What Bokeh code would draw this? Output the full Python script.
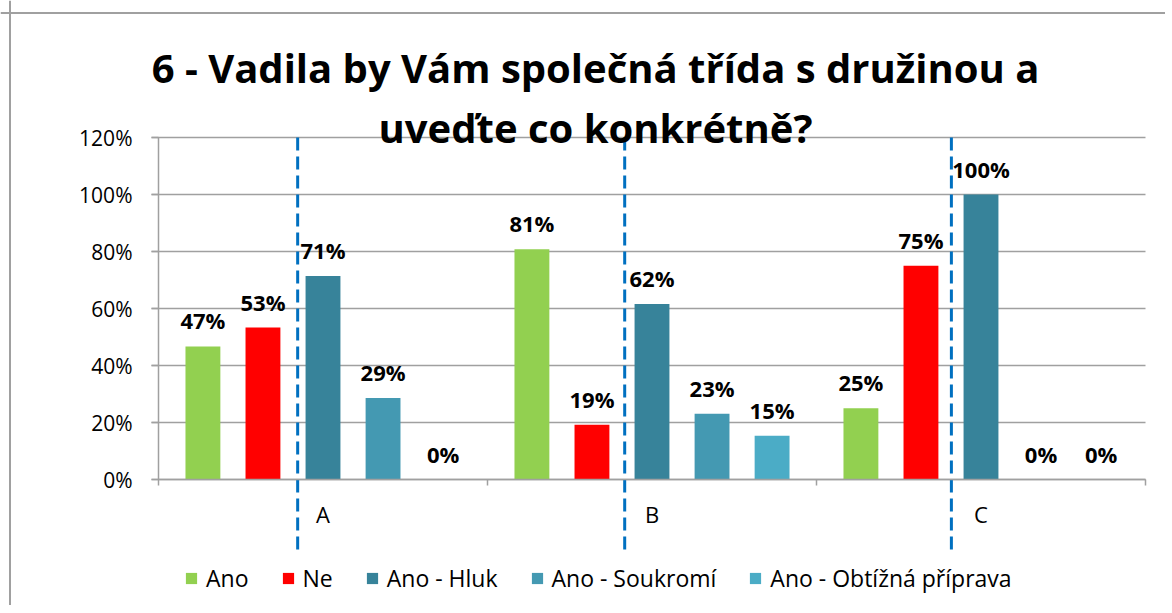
from bokeh.plotting import figure
from bokeh.models import (Range1d, FixedTicker, NumeralTickFormatter, Label, Legend, LegendItem, Span, Grid)
from bokeh.core.properties import value
from bokeh.embed import file_html
from bokeh.resources import INLINE

title_lines = ["6 - Vadila by Vám společná třída s družinou a", "uveďte co konkrétně?"]
categories = ["A", "B", "C"]
series_names = ["Ano", "Ne", "Ano - Hluk", "Ano - Soukromí", "Ano - Obtížná příprava"]
ano = [0.4667, 0.8077, 0.25]
ne = [0.5333, 0.1923, 0.75]
ano_hluk = [0.7143, 0.6154, 1.0]
ano_soukromi = [0.2857, 0.2308, 0.0]
ano_obtizna = [0.0, 0.1538, 0.0]
series_values = [ano, ne, ano_hluk, ano_soukromi, ano_obtizna]
colors = ["#92D050", "#FF0000", "#37839A", "#4499B2", "#4BACC6"]
y_ticks = [0, 0.2, 0.4, 0.6, 0.8, 1.0, 1.2]

FONT = "Open Sans"
GRAY = "#A0A0A0"
n = len(categories)

# page px -> data: x 0 at 159, 329 px/unit ; y 0 at 480, 285 px/unit
ORIG = 1  # observed canvas origin on page
W, H = 1165, 605
x0_px, xs_px = 159 - ORIG, 329.0
y0_px, ys_px = 480 - ORIG, 285.0
x_start = -x0_px / xs_px
x_end = (W - x0_px) / xs_px
y_end = y0_px / ys_px
y_start = -(H - y0_px) / ys_px

p = figure(width=W, height=H, output_backend="svg", toolbar_location=None,
           x_range=Range1d(x_start, x_end), y_range=Range1d(y_start, y_end),
           min_border_left=0, min_border_top=0, min_border_right=0, min_border_bottom=0)
p.outline_line_color = None
p.background_fill_color = "white"
p.border_fill_color = "white"

# outer chart border (left and top edges)
p.add_layout(Span(location=(10.5 - 159) / xs_px, dimension="height", line_color=GRAY, line_width=2))
p.add_layout(Span(location=(480 - 13.5) / ys_px, dimension="width", line_color=GRAY, line_width=2))

# y axis at x = 0
p.yaxis.fixed_location = 0
p.yaxis.ticker = FixedTicker(ticks=y_ticks)
p.yaxis.formatter = NumeralTickFormatter(format="0%")
p.yaxis.bounds = (0, 1.2)
p.yaxis.axis_line_color = GRAY
p.yaxis.axis_line_width = 1.5
p.yaxis.major_tick_line_color = GRAY
p.yaxis.major_tick_line_width = 1.5
p.yaxis.major_tick_out = 7
p.yaxis.major_tick_in = 0
p.yaxis.minor_tick_line_color = None
p.yaxis.major_label_standoff = 19
p.yaxis.major_label_text_font = FONT
p.yaxis.major_label_text_font_size = "21px"
p.yaxis.major_label_text_color = "black"

# x axis at y = 0
p.xaxis.fixed_location = 0
p.xaxis.bounds = (0, n)
p.xaxis.ticker = FixedTicker(ticks=[i + 0.5 for i in range(n)], minor_ticks=list(range(n + 1)))
p.xaxis.major_label_overrides = {i + 0.5: c for i, c in enumerate(categories)}
p.xaxis.axis_line_color = GRAY
p.xaxis.axis_line_width = 1.5
p.xaxis.major_tick_line_color = None
p.xaxis.minor_tick_line_color = GRAY
p.xaxis.minor_tick_line_width = 1.5
p.xaxis.minor_tick_out = 6
p.xaxis.minor_tick_in = 0
p.xaxis.major_label_standoff = 13
p.xaxis.major_label_text_font = FONT
p.xaxis.major_label_text_font_size = "22px"
p.xaxis.major_label_text_color = "black"

p.xgrid.grid_line_color = None
grid_left = -7 / xs_px
if "cross_bounds" in Grid.properties():
    p.ygrid.ticker = FixedTicker(ticks=y_ticks)
    p.ygrid.cross_bounds = (grid_left, n)
    p.ygrid.grid_line_color = GRAY
    p.ygrid.grid_line_width = 1.5
    p.ygrid.level = "underlay"
else:
    p.ygrid.grid_line_color = None
    p.segment(x0=[grid_left] * len(y_ticks), x1=[n] * len(y_ticks), y0=y_ticks, y1=y_ticks,
              line_color=GRAY, line_width=1.5, level="underlay")

# bars
pitch = 0.1825
width = 0.106
items = []
for k, (name, vals, col) in enumerate(zip(series_names, series_values, colors)):
    xs = [i + 0.5 + (k - 2) * pitch for i in range(n)]
    r = p.vbar(x=xs, top=vals, bottom=0, width=width, fill_color=col, line_color=None)
    items.append(LegendItem(label=name, renderers=[r]))
    p.text(x=xs, y=vals, text=[f"{round(v * 100)}%" for v in vals],
           text_align="center", text_baseline="middle", y_offset=-26,
           text_font=value(FONT), text_font_style="bold", text_font_size="22px",
           text_color="black")

# dashed separators
sep_x = [0.423, 1.417, 2.41]
p.segment(x0=sep_x, x1=sep_x, y0=[1.2] * 3, y1=[-70 / ys_px] * 3,
          line_color="#0070C0", line_width=3, line_dash="13 6")

# title
title_x = (596 - 159) / xs_px
for line, ty in zip(title_lines, [480 - 68, 480 - 128]):
    p.add_layout(Label(x=title_x, y=ty / ys_px, text=line, text_align="center", text_baseline="middle",
                       text_font=FONT, text_font_style="bold", text_font_size="40px",
                       text_color="black"))

legend = Legend(items=items, orientation="horizontal", location=(185 - ORIG, 11),
                glyph_width=14, glyph_height=14, label_standoff=8, spacing=32,
                padding=0, margin=0, border_line_color=None, background_fill_alpha=0,
                label_text_font=FONT, label_text_font_size="23px", label_text_color="black")
p.add_layout(legend)

open("out.html", "w").write(file_html(p, INLINE))
